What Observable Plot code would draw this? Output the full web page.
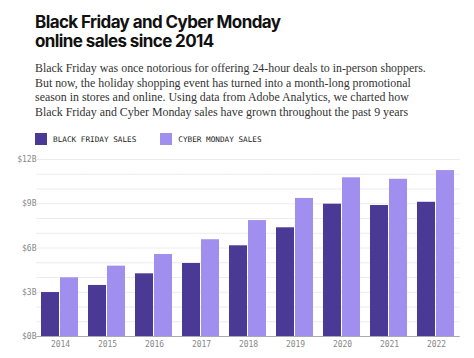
<!DOCTYPE html>
<html><head><meta charset="utf-8">
<script src="https://cdn.jsdelivr.net/npm/d3@7"></script>
<script src="https://cdn.jsdelivr.net/npm/@observablehq/plot@0.6"></script>
<style>
html,body{margin:0;padding:0;background:#fff;}
#wrap{width:474px;height:358px;position:relative;overflow:hidden;}
h1{position:absolute;left:35px;top:13px;margin:0;font-family:Inter,Roboto,sans-serif;font-weight:700;font-size:17px;line-height:19px;color:#111;letter-spacing:-0.6px;}
.sub{position:absolute;left:35px;top:61px;margin:0;font-family:"Liberation Serif","DejaVu Serif",serif;font-size:11.9px;line-height:14.6px;color:#333;}
.legend{position:absolute;left:35px;top:133px;font-family:"DejaVu Sans Mono","Liberation Mono",monospace;font-size:7.7px;color:#222;display:flex;align-items:center;}
.legend span.sw{display:inline-block;width:12px;height:12px;margin-right:6px;}
.legend .item{display:flex;align-items:center;margin-right:24px;}
#chart{position:absolute;left:0;top:150px;}
</style></head>
<body><div id="wrap">
<h1>Black Friday and Cyber Monday<br>online sales since 2014</h1>
<p class="sub">Black Friday was once notorious for offering 24-hour deals to in-person shoppers.<br>But now, the holiday shopping event has turned into a month-long promotional<br>season in stores and online. Using data from Adobe Analytics, we charted how<br>Black Friday and Cyber Monday sales have grown throughout the past 9 years</p>
<div class="legend" id="legend"></div>
<div id="chart"></div>
</div>
<script>
const years = ["2014","2015","2016","2017","2018","2019","2020","2021","2022"];
const seriesNames = ["BLACK FRIDAY SALES","CYBER MONDAY SALES"];
const seriesColors = ["#4a3a96","#a08fee"];
const blackFriday = [2.98, 3.46, 4.25, 4.95, 6.15, 7.37, 8.97, 8.88, 9.10];
const cyberMonday = [3.98, 4.77, 5.56, 6.56, 7.86, 9.36, 10.76, 10.66, 11.25];
const yTicks = [0, 3, 6, 9, 12];
const gridTicks = [1, 2, 3, 4, 5, 6, 7, 8, 9, 10, 11, 12];

const rows = [];
years.forEach((y, i) => {
  rows.push({year: y, series: seriesNames[0], value: blackFriday[i]});
  rows.push({year: y, series: seriesNames[1], value: cyberMonday[i]});
});

const legend = document.getElementById("legend");
seriesNames.forEach((s, i) => {
  const it = document.createElement("div");
  it.className = "item";
  it.innerHTML = `<span class="sw" style="background:${seriesColors[i]}"></span>${s}`;
  legend.appendChild(it);
});

const gap = -4.72;
const plot = Plot.plot({
  width: 474,
  height: 208,
  marginLeft: 35,
  marginRight: 14,
  marginTop: 9,
  marginBottom: 22,
  style: {fontFamily: "'DejaVu Sans Mono', monospace", fontSize: "8px", color: "#888", background: "transparent"},
  fx: {domain: years, paddingInner: 0.2, paddingOuter: 0.1, label: null, tickSize: 0, tickPadding: 5, axis: "bottom"},
  x: {domain: seriesNames, paddingInner: 0.05, paddingOuter: 0, axis: null},
  y: {domain: [0, 12], ticks: yTicks, tickFormat: d => `$${d}B`, tickSize: 0, tickPadding: 5, label: null},
  color: {domain: seriesNames, range: seriesColors},
  marks: [
    Plot.ruleY(gridTicks, {stroke: "#ececec", strokeWidth: 1, insetLeft: gap, insetRight: gap}),
    Plot.barY(rows, {fx: "year", x: "series", y: "value", fill: "series"}),
    Plot.ruleY([0], {stroke: "#aaa", strokeWidth: 1, insetLeft: gap, insetRight: gap})
  ]
});
document.getElementById("chart").appendChild(plot);
</script>
</body></html>
